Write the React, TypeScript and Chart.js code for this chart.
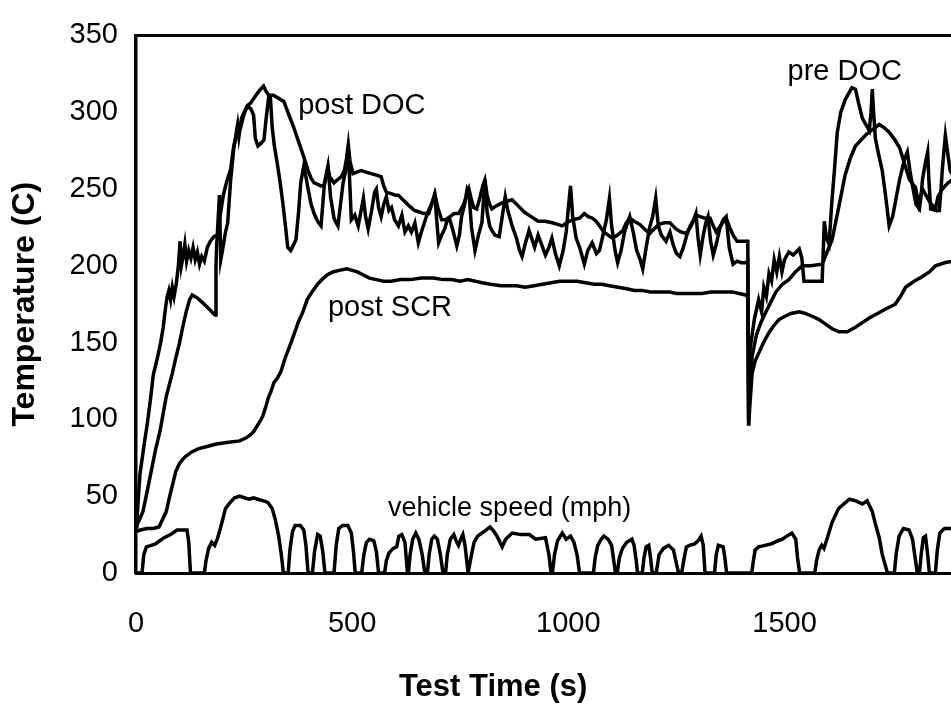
import React, { useEffect, useRef } from "react";
import { Chart, registerables } from "chart.js";

Chart.register(...registerables);

// [test time (s), temperature (C)]
const preDoc: [number, number][] = [
  [0, 30], [2, 34], [9, 64], [18, 82], [26, 97], [33, 112], [40, 129], [46, 136], [51, 142], [57, 150],
  [63, 160], [68, 172], [72, 180], [76, 184], [80, 178], [84, 186], [88, 180], [93, 188], [98, 200], [102, 216],
  [105, 200], [109, 206], [113, 214], [117, 203], [122, 210], [127, 205], [132, 212], [137, 204], [142, 209], [147, 201],
  [152, 206], [158, 203], [165, 212], [172, 216], [180, 219], [188, 220], [193, 246], [196, 204], [200, 210], [207, 222],
  [212, 228], [219, 256], [226, 276], [232, 287], [235, 292], [238, 284], [244, 296], [250, 300], [258, 304], [266, 302],
  [272, 298], [276, 283], [282, 278], [290, 280], [296, 282], [301, 296], [307, 310], [311, 309], [315, 290], [320, 278],
  [326, 268], [333, 255], [340, 240], [346, 225], [351, 212], [358, 210], [365, 214], [370, 217], [376, 235], [381, 254],
  [388, 265], [393, 258], [398, 250], [405, 240], [412, 234], [420, 229], [428, 226], [432, 240], [436, 254], [444, 265],
  [450, 245], [458, 231], [463, 228], [467, 226], [473, 240], [479, 254], [485, 262], [491, 276], [495, 250], [498, 230],
  [506, 233], [514, 226], [520, 235], [526, 244], [531, 232], [537, 224], [545, 236], [552, 248], [556, 250], [561, 238],
  [567, 232], [573, 240], [579, 245], [585, 236], [591, 238], [598, 230], [607, 226], [615, 233], [622, 222], [630, 226],
  [637, 222], [645, 228], [653, 215], [660, 222], [667, 228], [675, 235], [683, 240], [691, 246], [696, 228], [700, 215],
  [707, 220], [714, 224], [720, 230], [726, 230], [734, 222], [742, 213], [748, 220], [753, 232], [760, 240], [766, 250],
  [770, 248], [776, 225], [784, 210], [792, 220], [800, 228], [807, 256], [812, 235], [818, 226], [823, 223], [830, 220],
  [840, 219], [847, 232], [854, 245], [860, 236], [870, 226], [880, 218], [887, 210], [893, 206], [900, 214], [909, 223],
  [915, 218], [922, 212], [930, 220], [938, 214], [947, 207], [955, 212], [962, 218], [970, 208], [979, 200], [988, 210],
  [995, 222], [1000, 238], [1005, 252], [1010, 232], [1018, 218], [1026, 212], [1032, 206], [1037, 201], [1045, 210], [1055, 215],
  [1065, 208], [1072, 210], [1080, 220], [1088, 230], [1095, 244], [1100, 226], [1108, 210], [1114, 202], [1122, 210], [1130, 222],
  [1137, 228], [1142, 232], [1150, 222], [1158, 210], [1166, 204], [1172, 198], [1180, 212], [1188, 225], [1195, 232], [1202, 244],
  [1208, 226], [1215, 220], [1226, 216], [1235, 222], [1242, 214], [1250, 208], [1258, 206], [1266, 212], [1274, 220], [1282, 226],
  [1290, 230], [1295, 234], [1300, 218], [1305, 207], [1312, 220], [1318, 228], [1323, 232], [1329, 216], [1335, 207], [1342, 214],
  [1350, 224], [1358, 230], [1365, 232], [1372, 212], [1381, 201], [1390, 203], [1400, 202], [1410, 202], [1415, 203], [1417, 96],
  [1420, 145], [1430, 165], [1440, 178], [1447, 170], [1452, 186], [1458, 180], [1464, 195], [1470, 190], [1476, 204], [1482, 196],
  [1488, 206], [1494, 196], [1500, 204], [1510, 209], [1520, 207], [1534, 211], [1540, 205], [1545, 190], [1587, 190], [1592, 229],
  [1597, 218], [1603, 214], [1609, 240], [1615, 261], [1622, 287], [1630, 300], [1640, 308], [1650, 313], [1656, 316], [1664, 315],
  [1672, 305], [1680, 296], [1688, 292], [1696, 288], [1700, 300], [1703, 315], [1706, 300], [1710, 283], [1718, 272], [1726, 262],
  [1734, 245], [1742, 226], [1750, 232], [1756, 241], [1766, 256], [1777, 269], [1784, 274], [1790, 262], [1796, 252], [1804, 240],
  [1812, 237], [1816, 246], [1819, 256], [1825, 266], [1831, 274], [1834, 255], [1838, 237], [1850, 236], [1858, 236], [1862, 250],
  [1865, 263], [1869, 276], [1872, 285], [1878, 272], [1883, 262], [1889, 259],
];

const postDoc: [number, number][] = [
  [0, 30], [5, 33], [10, 36], [16, 40], [25, 52], [35, 66], [45, 80], [56, 93], [70, 115], [84, 130],
  [92, 140], [100, 149], [108, 160], [116, 170], [124, 178], [130, 181], [136, 180], [142, 179], [150, 177], [158, 175],
  [165, 173], [172, 171], [179, 169], [183, 168], [185, 200], [187, 216], [192, 228], [202, 246], [210, 255], [219, 263],
  [226, 278], [234, 286], [242, 290], [249, 298], [257, 304], [265, 306], [275, 310], [285, 314], [295, 317], [300, 314],
  [307, 311], [318, 311], [330, 309], [342, 307], [354, 298], [365, 290], [377, 280], [388, 271], [398, 262], [405, 257],
  [412, 254], [420, 253], [428, 252], [435, 252], [440, 258], [444, 264], [448, 258], [458, 254], [466, 256], [475, 258],
  [482, 262], [487, 270], [491, 279], [495, 268], [502, 260], [510, 261], [521, 262], [532, 261], [544, 260], [556, 259],
  [567, 258], [573, 252], [579, 248], [590, 247], [600, 246], [607, 246], [614, 244], [621, 242], [632, 239], [644, 236],
  [655, 235], [666, 234], [677, 234], [684, 240], [691, 247], [698, 238], [707, 230], [716, 230], [726, 232], [736, 234],
  [746, 234], [758, 240], [765, 246], [770, 250], [775, 244], [781, 238], [788, 237], [796, 245], [802, 252], [807, 256],
  [812, 246], [818, 240], [823, 237], [833, 239], [840, 240], [847, 241], [858, 242], [870, 243], [884, 239], [898, 235],
  [914, 232], [930, 229], [946, 229], [963, 228], [975, 227], [986, 226], [996, 228], [1010, 230], [1026, 231], [1037, 234],
  [1046, 232], [1056, 231], [1064, 229], [1072, 226], [1082, 222], [1092, 220], [1102, 218], [1114, 220], [1126, 223], [1134, 228],
  [1142, 231], [1152, 229], [1165, 227], [1176, 224], [1188, 221], [1198, 224], [1210, 227], [1222, 228], [1235, 228], [1242, 226],
  [1249, 224], [1260, 222], [1272, 221], [1284, 226], [1295, 233], [1305, 232], [1316, 231], [1328, 231], [1335, 226], [1342, 222],
  [1352, 226], [1365, 231], [1373, 225], [1381, 220], [1390, 216], [1398, 216], [1406, 216], [1415, 216], [1417, 100], [1420, 120],
  [1425, 141], [1435, 155], [1445, 163], [1455, 169], [1464, 174], [1480, 183], [1495, 188], [1510, 191], [1525, 196], [1541, 200],
  [1560, 200], [1587, 201], [1597, 208], [1610, 217], [1626, 239], [1640, 259], [1652, 270], [1664, 278], [1687, 285], [1700, 288],
  [1719, 292], [1730, 290], [1742, 287], [1755, 282], [1766, 277], [1778, 266], [1789, 256], [1803, 251], [1810, 240], [1819, 250],
  [1827, 246], [1835, 242], [1849, 237], [1855, 245], [1865, 250], [1878, 254], [1889, 256],
];

const postScr: [number, number][] = [
  [0, 27], [10, 28], [25, 29], [40, 29], [53, 30], [60, 34], [70, 40], [78, 50], [85, 58], [92, 66],
  [100, 71], [108, 74], [115, 76], [130, 79], [145, 81], [160, 82], [186, 84], [210, 85], [240, 86], [255, 88],
  [265, 90], [272, 92], [283, 97], [293, 102], [300, 108], [306, 114], [312, 118], [319, 124], [327, 127], [335, 131],
  [345, 140], [356, 148], [365, 155], [375, 163], [386, 170], [396, 178], [407, 183], [420, 188], [430, 191], [442, 194],
  [455, 196], [470, 197], [488, 198], [500, 197], [512, 196], [526, 194], [540, 192], [556, 191], [572, 190], [590, 190],
  [612, 191], [635, 191], [660, 192], [688, 192], [710, 191], [730, 191], [750, 190], [767, 191], [785, 190], [800, 189],
  [820, 188], [844, 187], [860, 187], [880, 187], [900, 186], [921, 187], [940, 188], [960, 189], [980, 190], [1000, 190],
  [1020, 190], [1040, 189], [1060, 188], [1077, 188], [1095, 187], [1115, 186], [1135, 185], [1153, 184], [1170, 184], [1190, 183],
  [1210, 183], [1233, 183], [1250, 182], [1270, 182], [1290, 182], [1309, 182], [1330, 183], [1345, 183], [1360, 183], [1379, 183],
  [1395, 182], [1410, 181], [1415, 180], [1417, 96], [1420, 110], [1425, 130], [1432, 138], [1440, 143], [1448, 148], [1455, 152],
  [1465, 157], [1475, 161], [1487, 165], [1500, 167], [1515, 169], [1534, 170], [1548, 169], [1565, 167], [1580, 165], [1595, 162],
  [1610, 159], [1626, 157], [1645, 157], [1664, 160], [1680, 163], [1696, 166], [1715, 169], [1735, 172], [1756, 175], [1768, 180],
  [1780, 186], [1800, 190], [1819, 193], [1835, 196], [1849, 200], [1870, 202], [1889, 203],
];

// [test time (s), vehicle speed (mph)]
const vehicleSpeed: [number, number][] = [
  [0, 0], [14, 0], [18, 12], [24, 17], [35, 18], [45, 19], [55, 21], [65, 23], [80, 25], [95, 28], [110, 28], [118, 28], [122, 20], [126, 0],
  [158, 0], [162, 8], [168, 16], [175, 20], [182, 18], [188, 22], [196, 30], [207, 42], [218, 46], [228, 49], [240, 50], [250, 49],
  [262, 48], [272, 49], [282, 48], [295, 47], [305, 46], [315, 42], [322, 35], [330, 24], [336, 12], [341, 0],
  [352, 0], [356, 15], [362, 27], [368, 31], [380, 31], [388, 28], [393, 18], [398, 0],
  [408, 0], [413, 14], [420, 25], [426, 24], [432, 14], [437, 0],
  [458, 0], [463, 18], [469, 29], [478, 31], [490, 31], [498, 26], [503, 14], [507, 0],
  [522, 0], [527, 12], [533, 20], [540, 22], [550, 21], [556, 14], [561, 0],
  [575, 0], [579, 8], [585, 13], [595, 16], [603, 17], [608, 24], [615, 25], [622, 20], [628, 0],
  [630, 0], [634, 12], [640, 22], [647, 26], [654, 22], [662, 12], [668, 0],
  [674, 0], [678, 12], [684, 22], [690, 24], [697, 22], [704, 12], [710, 0],
  [716, 0], [720, 12], [727, 22], [735, 25], [742, 20], [746, 18], [751, 22], [756, 25], [761, 18], [765, 8], [768, 0],
  [770, 0], [776, 12], [782, 20], [790, 24], [805, 27], [819, 30], [828, 27], [835, 24], [847, 17], [855, 22], [870, 26],
  [890, 25], [910, 25], [924, 22], [947, 23], [955, 12], [960, 0],
  [963, 0], [968, 12], [975, 21], [986, 26], [995, 22], [1005, 24], [1013, 20], [1020, 12], [1026, 0],
  [1058, 0], [1062, 10], [1068, 18], [1076, 22], [1082, 24], [1092, 22], [1100, 18], [1105, 8], [1109, 0],
  [1113, 0], [1118, 10], [1125, 16], [1135, 20], [1147, 22], [1152, 18], [1157, 8], [1160, 0],
  [1171, 0], [1175, 10], [1180, 17], [1186, 18], [1190, 10], [1194, 0],
  [1203, 0], [1210, 12], [1220, 16], [1232, 18], [1243, 15], [1250, 6], [1255, 0],
  [1262, 0], [1268, 10], [1273, 17], [1280, 18], [1292, 19], [1300, 21], [1307, 24], [1312, 18], [1316, 0],
  [1338, 0], [1342, 12], [1347, 18], [1358, 17], [1362, 10], [1366, 0],
  [1424, 0], [1428, 8], [1432, 15], [1440, 17], [1455, 18], [1470, 19], [1485, 21], [1495, 22], [1505, 24], [1517, 26],
  [1526, 22], [1530, 10], [1535, 0],
  [1570, 0], [1574, 8], [1580, 15], [1586, 18], [1591, 16], [1598, 22], [1610, 33], [1625, 42], [1650, 48], [1665, 47],
  [1680, 45], [1691, 47], [1703, 40], [1710, 32], [1719, 23], [1726, 12], [1733, 5], [1738, 0],
  [1754, 0], [1758, 12], [1765, 24], [1775, 29], [1788, 28], [1796, 22], [1802, 10], [1807, 0],
  [1812, 0], [1816, 12], [1821, 23], [1826, 24], [1831, 12], [1835, 0],
  [1849, 0], [1853, 14], [1859, 26], [1870, 29], [1885, 29], [1892, 28],
];

const xTicks = [0, 500, 1000, 1500];
const yTicks = [0, 50, 100, 150, 200, 250, 300, 350];
const seriesNames = ["pre DOC", "post DOC", "post SCR", "vehicle speed (mph)"];
// curve labels anchored in data coordinates: [text, time, value]
const curveLabels: [string, number, number][] = [
  ["post DOC", 375, 299],
  ["post SCR", 444, 167],
  ["pre DOC", 1507, 321],
  ["vehicle speed (mph)", 583, 37],
];
const xTitle = "Test Time (s)";
const yTitle = "Temperature (C)";

const FONT = "'Liberation Sans', Arial, Helvetica, sans-serif";

const toPoints = (arr: [number, number][]) => arr.map(([x, y]) => ({ x, y }));

const decorPlugin = {
  id: "decor",
  afterDatasetsDraw(chart: any) {
    const { ctx, chartArea, scales } = chart;
    const xs = scales.x;
    const ys = scales.y;
    ctx.save();
    // top frame line
    ctx.strokeStyle = "#000";
    ctx.lineWidth = 3;
    ctx.beginPath();
    ctx.moveTo(chartArea.left - 1.5, chartArea.top);
    ctx.lineTo(chartArea.right, chartArea.top);
    ctx.stroke();
    // curve labels
    ctx.fillStyle = "#000";
    ctx.textAlign = "left";
    ctx.textBaseline = "alphabetic";
    for (const [text, t, v] of curveLabels) {
      ctx.font = (text.length > 10 ? "27px " : "29px ") + FONT;
      ctx.fillText(text, xs.getPixelForValue(t), ys.getPixelForValue(v));
    }
    // x-axis title
    ctx.font = "bold 31px " + FONT;
    ctx.textAlign = "center";
    ctx.textBaseline = "middle";
    ctx.fillText(xTitle, xs.getPixelForValue(826), chart.height - 22);
    ctx.restore();
  },
};

export default function App() {
  const ref = useRef<HTMLCanvasElement | null>(null);

  useEffect(() => {
    if (!ref.current) return;
    const lineStyle = {
      borderColor: "#000",
      backgroundColor: "#000",
      borderWidth: 3.5,
      pointRadius: 0,
      tension: 0,
      fill: false,
    };
    const chart = new Chart(ref.current, {
      type: "line",
      data: {
        datasets: [
          { label: seriesNames[0], data: toPoints(preDoc), ...lineStyle },
          { label: seriesNames[1], data: toPoints(postDoc), ...lineStyle },
          { label: seriesNames[2], data: toPoints(postScr), ...lineStyle },
          { label: seriesNames[3], data: toPoints(vehicleSpeed), ...lineStyle },
        ],
      },
      options: {
        animation: false,
        responsive: false,
        devicePixelRatio: 1,
        layout: { padding: { top: 27, right: 0, left: 0, bottom: 0 } },
        plugins: {
          legend: { display: false },
          tooltip: { enabled: false },
        },
        scales: {
          x: {
            type: "linear",
            min: 0,
            max: 1885,
            grid: { display: true, color: "rgba(0,0,0,0)", drawTicks: false },
            border: { display: true, color: "#000", width: 3 },
            ticks: {
              color: "#000",
              font: { family: FONT, size: 29 },
              padding: 34,
              maxRotation: 0,
              autoSkip: false,
              callback: (v: any) => String(v),
            },
            afterBuildTicks: (s: any) => {
              s.ticks = xTicks.map((v) => ({ value: v }));
            },
            afterFit: (s: any) => {
              s.height = 136;
            },
          },
          y: {
            type: "linear",
            min: 0,
            max: 350,
            grid: { display: true, color: "rgba(0,0,0,0)", drawTicks: false },
            border: { display: true, color: "#000", width: 3.5 },
            ticks: {
              color: "#000",
              font: { family: FONT, size: 29 },
              padding: 18,
              autoSkip: false,
              callback: (v: any) => String(v),
            },
            afterBuildTicks: (s: any) => {
              s.ticks = yTicks.map((v) => ({ value: v }));
            },
            afterFit: (s: any) => {
              s.width = 136;
            },
            title: {
              display: true,
              text: yTitle,
              color: "#000",
              font: { family: FONT, size: 32, weight: "bold" },
              padding: { top: 6, bottom: 0 },
            },
          },
        },
      },
      plugins: [decorPlugin],
    });
    return () => chart.destroy();
  }, []);

  return (
    <div style={{ position: "absolute", left: 0, top: 0, width: 951, height: 709, background: "#fff" }}>
      <canvas ref={ref} width={951} height={709} style={{ display: "block", width: 951, height: 709 }} />
    </div>
  );
}
